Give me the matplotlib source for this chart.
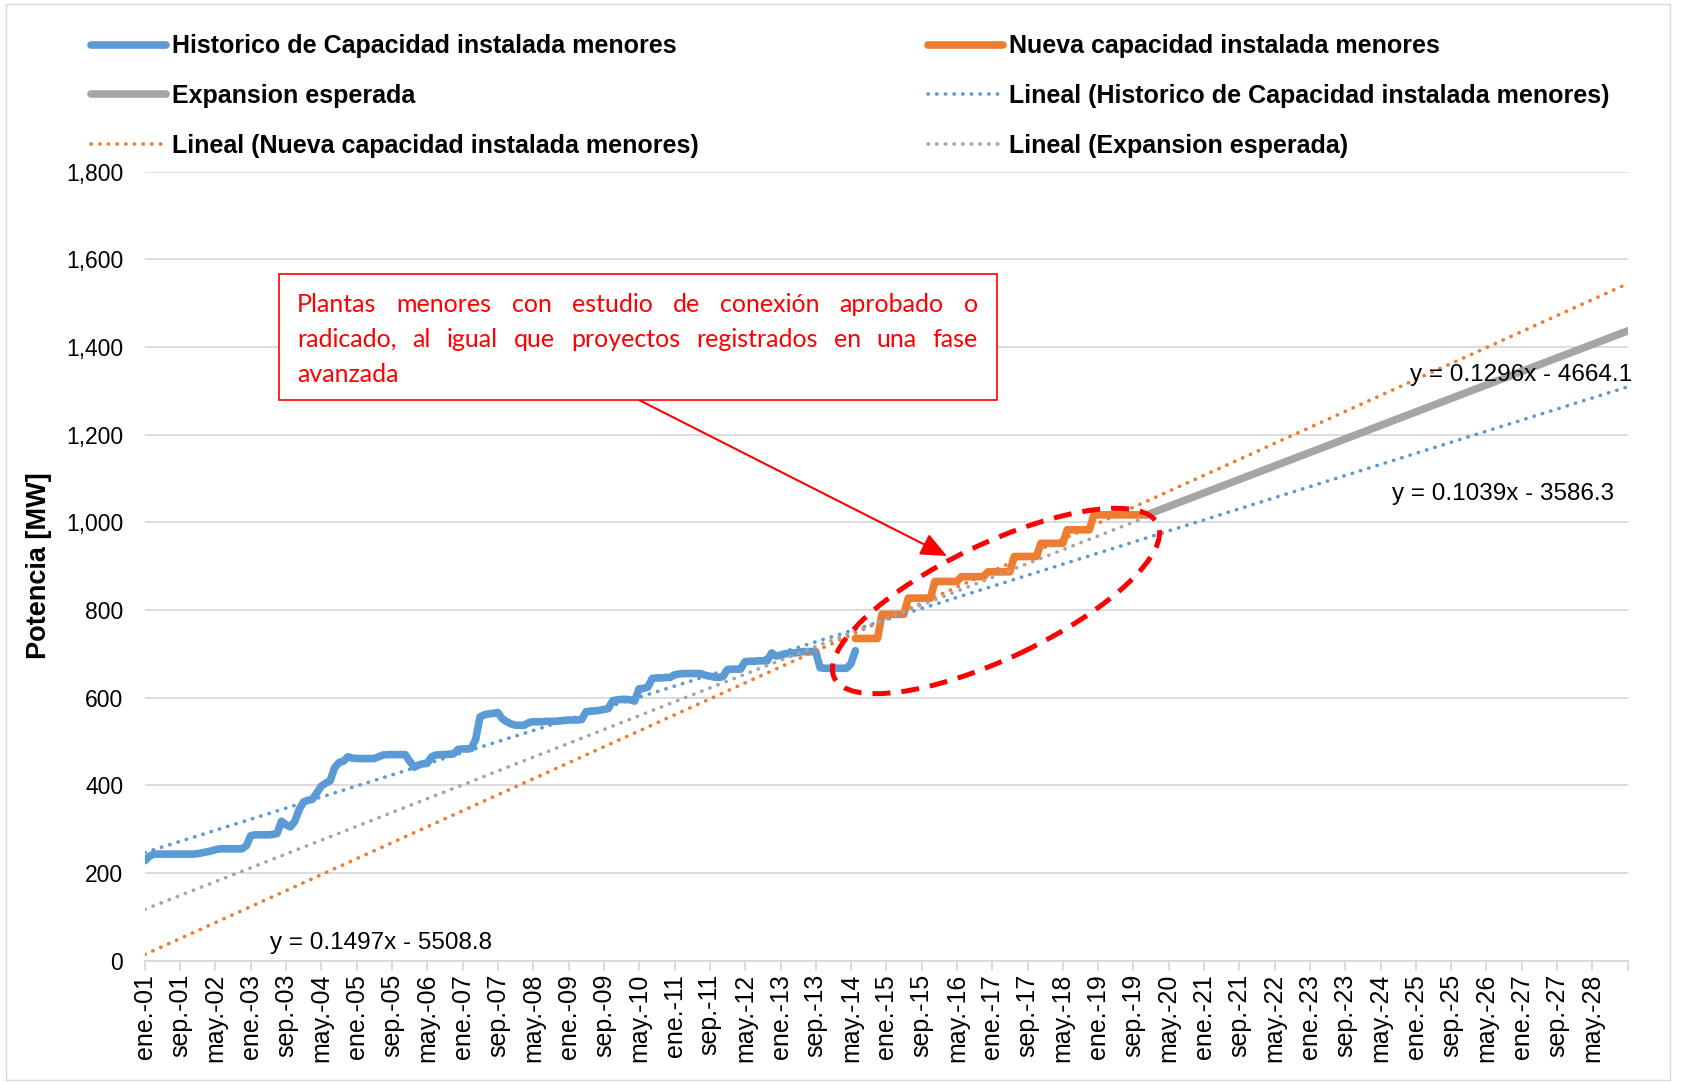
import datetime as dt

import matplotlib
matplotlib.use('Agg')
import matplotlib.pyplot as plt
from matplotlib.lines import Line2D
from matplotlib.patches import Ellipse, Rectangle

W, H = 1683, 1082

MESES = ['ene.', 'feb.', 'mar.', 'abr.', 'may.', 'jun.',
         'jul.', 'ago.', 'sep.', 'oct.', 'nov.', 'dic.']

# capacidad instalada historica de plantas menores (MW), mensual ene-2001 .. jun-2014
historico = [
    228, 238, 243, 243, 243, 243, 243, 243, 243, 243,
    243, 243, 244, 246, 248, 250, 253, 255, 255, 255,
    255, 255, 255, 262, 285, 287, 287, 287, 287, 288,
    290, 318, 310, 305, 318, 345, 362, 366, 368, 383,
    398, 405, 410, 440, 452, 455, 465, 462, 461, 461,
    461, 461, 461, 465, 469, 470, 470, 470, 470, 470,
    455, 441, 446, 449, 450, 465, 469, 470, 470, 471,
    472, 482, 483, 483, 484, 505, 556, 561, 563, 564,
    566, 552, 545, 540, 537, 537, 537, 543, 545, 545,
    545, 546, 546, 546, 547, 548, 549, 549, 549, 550,
    568, 569, 570, 571, 573, 575, 593, 595, 596, 596,
    595, 592, 620, 621, 624, 644, 645, 645, 646, 646,
    652, 654, 655, 655, 655, 655, 655, 651, 649, 647,
    646, 648, 664, 665, 665, 665, 682, 683, 683, 684,
    684, 684, 702, 695, 697, 700, 701, 702, 703, 705,
    705, 705, 705, 668, 667, 667, 667, 667, 667, 667,
    677, 707,
]
inicio_historico = (2001, 1)

# nueva capacidad (MW), mensual jun-2014 .. dic-2019
nueva = [
    735, 735, 735, 735, 735, 735,
    790, 790, 790, 790, 790, 790,
    827, 827, 827, 827, 827, 827,
    865, 865, 865, 865, 865, 865,
    876, 876, 876, 876, 876, 876,
    887, 887, 887, 887, 887, 887,
    922, 922, 922, 922, 922, 922,
    952, 952, 952, 952, 952, 952,
    983, 983, 983, 983, 983, 983,
    1017, 1017, 1017, 1017, 1017, 1017, 1017,
    1017, 1017, 1017, 1017, 1017, 1017,
]
inicio_nueva = (2014, 6)

# expansion esperada (MW)
expansion_fechas = [(2019, 12), (2029, 1)]
expansion = [1017, 1437]

# tendencias lineales y = a*x + b (x = fecha serial de Excel)
tend_historico = (0.1039, -3586.3)
tend_nueva = (0.1497, -5508.8)
tend_expansion = (0.1296, -4664.1)

AZUL = '#5B9BD5'
NARANJA = '#ED7D31'
GRIS = '#A5A5A5'
ROJO = '#FF0000'
REJILLA = '#D9D9D9'
FUENTE = 'Liberation Sans'


def serial(anio, mes, dia=1):
    return (dt.date(anio, mes, dia) - dt.date(1899, 12, 30)).days


def meses_desde(inicio, n):
    a, m = inicio
    out = []
    for i in range(n):
        k = m - 1 + i
        out.append(serial(a + k // 12, k % 12 + 1))
    return out


x_hist = meses_desde(inicio_historico, len(historico))
x_nueva = meses_desde(inicio_nueva, len(nueva))
x_exp = [serial(a, m) for a, m in expansion_fechas]

x_ini, x_fin = serial(2001, 1), serial(2029, 1)

fig = plt.figure(figsize=(W / 100, H / 100), dpi=100)
ax = fig.add_axes([144.9 / W, (H - 960.6) / H, (1628 - 144.9) / W, (960.6 - 171.7) / H])

estilo_serie = dict(lw=5.5, solid_capstyle='round', solid_joinstyle='round')
estilo_tend = dict(lw=2.6, linestyle=(0, (0.1, 2.3)), dash_capstyle='round')

ax.plot(x_hist, historico, color=AZUL, zorder=3, **estilo_serie)
ax.plot(x_nueva, nueva, color=NARANJA, zorder=3, **estilo_serie)
ax.plot(x_exp, expansion, color=GRIS, zorder=3, **estilo_serie)

for (a, b), col in [(tend_historico, AZUL), (tend_nueva, NARANJA), (tend_expansion, GRIS)]:
    xs = [x_ini, x_fin]
    ax.plot(xs, [a * x + b for x in xs], color=col, zorder=4, **estilo_tend)

ax.set_xlim(x_ini, x_fin)
ax.set_ylim(0, 1800)

yt = list(range(0, 1801, 200))
ax.set_yticks(yt, [f'{v:,}' for v in yt], fontsize=16.5, family=FUENTE)
ax.tick_params(axis='y', length=0, pad=15.5)

pos, etiquetas = [], []
for k in range(0, 337, 8):
    a, m = 2001 + k // 12, k % 12 + 1
    pos.append(serial(a, m))
    etiquetas.append(f'{MESES[m - 1]}-{a % 100:02d}' if k < 336 else '')
ax.set_xticks(pos, etiquetas, rotation=90, fontsize=18, family=FUENTE)
ax.tick_params(axis='x', length=7, width=1.3, color=REJILLA, pad=2.5)

ax.yaxis.grid(True, color=REJILLA, lw=1.3)
ax.set_axisbelow(True)
for lado in ['top', 'right', 'left']:
    ax.spines[lado].set_visible(False)
ax.spines['bottom'].set_color(REJILLA)
ax.spines['bottom'].set_linewidth(1.3)

fig.text(38.6 / W, 1 - 566 / H, 'Potencia [MW]', rotation=90, ha='center', va='center',
         fontsize=19.5, fontweight='bold', family=FUENTE)

# leyenda en dos columnas
h_hist = Line2D([], [], color=AZUL, **estilo_serie)
h_nueva = Line2D([], [], color=NARANJA, **estilo_serie)
h_exp = Line2D([], [], color=GRIS, **estilo_serie)
h_th = Line2D([], [], color=AZUL, **estilo_tend)
h_tn = Line2D([], [], color=NARANJA, **estilo_tend)
h_te = Line2D([], [], color=GRIS, **estilo_tend)

prop = dict(family=FUENTE, weight='bold', size=18)
ley_kw = dict(loc='upper left', frameon=False, borderpad=0, borderaxespad=0,
              handlelength=3.0, handletextpad=0.24, labelspacing=1.02, prop=prop)
ley1 = fig.legend([h_hist, h_exp, h_tn],
                  ['Historico de Capacidad instalada menores', 'Expansion esperada',
                   'Lineal (Nueva capacidad instalada menores)'],
                  bbox_to_anchor=(91 / W, 1 - 34.5 / H), **ley_kw)
ley2 = fig.legend([h_nueva, h_th, h_te],
                  ['Nueva capacidad instalada menores',
                   'Lineal (Historico de Capacidad instalada menores)',
                   'Lineal (Expansion esperada)'],
                  bbox_to_anchor=(928 / W, 1 - 34.5 / H), **ley_kw)

# ecuaciones de las tendencias
def ecuacion(a, b):
    return f'y = {a:.4f}x - {abs(b):.1f}'


fig.text(1521.5 / W, 1 - 375 / H, ecuacion(*tend_expansion), ha='center', va='center',
         fontsize=17.5, family=FUENTE)
fig.text(1503 / W, 1 - 494 / H, ecuacion(*tend_historico), ha='center', va='center',
         fontsize=17.5, family=FUENTE)
fig.text(381.5 / W, 1 - 943 / H, ecuacion(*tend_nueva), ha='center', va='center',
         fontsize=17.5, family=FUENTE)

# cuadro de nota con texto justificado
fig.add_artist(Rectangle((279 / W, 1 - 400 / H), (997 - 279) / W, (400 - 274) / H,
                         transform=fig.transFigure, facecolor='white', edgecolor=ROJO,
                         lw=1.2, zorder=5))

renderer = fig.canvas.get_renderer()
txt_kw = dict(fontsize=18, family=['Lato', 'DejaVu Sans'], color=ROJO, va='baseline',
              ha='left', zorder=6)
lineas = [
    ('Plantas menores con estudio de conexión aprobado o', 312, True),
    ('radicado, al igual que proyectos registrados en una fase', 347, True),
    ('avanzada', 382, False),
]
x0, x1 = 297, 978
for texto, yb, justificar in lineas:
    palabras = texto.split(' ')
    if not justificar:
        fig.text(x0 / W, 1 - yb / H, texto, **txt_kw)
        continue
    arts = [fig.text(0, 1 - yb / H, p, **txt_kw) for p in palabras]
    anchos = [t.get_window_extent(renderer).width for t in arts]
    hueco = (x1 - x0 - sum(anchos)) / (len(palabras) - 1)
    x = x0
    for t, w in zip(arts, anchos):
        t.set_x(x / W)
        x += w + hueco

ax.annotate('', xy=(947, H - 556), xytext=(639, H - 400),
            xycoords='figure pixels', textcoords='figure pixels',
            arrowprops=dict(arrowstyle='-|>,head_length=0.8,head_width=0.35',
                            mutation_scale=20, color=ROJO, lw=1.5,
                            shrinkA=0, shrinkB=0), zorder=6)

fig.add_artist(Ellipse((996 / 100, (H - 601) / 100), width=3.58, height=1.15, angle=25.4,
                       transform=fig.dpi_scale_trans, fill=False, edgecolor=ROJO,
                       lw=3.6, linestyle=(0, (3.6, 2.2)), zorder=6))

# marco del grafico
fig.add_artist(Rectangle((6 / W, 1 - 1080 / H), (1670 - 6) / W, (1080 - 4) / H,
                         transform=fig.transFigure, fill=False, edgecolor=REJILLA, lw=1.0))

fig.savefig('out.png', dpi=100)
